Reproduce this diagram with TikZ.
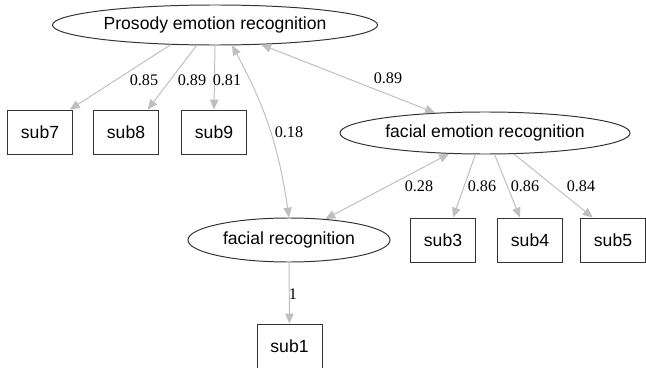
\documentclass[tikz,border=0pt]{standalone}
\usepackage{fontspec}
\setmainfont{Liberation Serif}
\setsansfont{Liberation Sans}
\usetikzlibrary{shapes.geometric,arrows.meta}

\begin{document}
\begin{tikzpicture}[x=0.025cm,y=-0.025cm,>={Triangle[length=7pt,width=6pt]},
   latent/.style={ellipse,draw=black!80,line width=0.7pt,inner sep=0pt,
     font=\sffamily\fontsize{12.5}{14}\selectfont},
   obs/.style={rectangle,draw=black!80,line width=0.7pt,inner sep=0pt,
     minimum width=1.625cm,minimum height=1.1cm,
     font=\sffamily\fontsize{12.5}{14}\selectfont},
   link/.style={draw=black!25,line width=0.7pt},
   coef/.style={inner sep=1pt,font=\fontsize{11.5}{14}\selectfont}]
  \useasboundingbox (0,0) rectangle (646,368);
  \node[latent,minimum width=8.125cm,minimum height=1cm] (pros) at (215,25) {Prosody emotion recognition};
  \node[latent,minimum width=7.25cm,minimum height=1.05cm] (femo) at (485,133) {facial emotion recognition};
  \node[latent,minimum width=5.05cm,minimum height=1.1cm] (frec) at (289,240) {facial recognition};
  \node[obs] (sub7) at (40,132) {sub7};
  \node[obs] (sub8) at (126,132) {sub8};
  \node[obs] (sub9) at (214,132) {sub9};
  \node[obs] (sub3) at (443,240) {sub3};
  \node[obs] (sub4) at (530,240) {sub4};
  \node[obs] (sub5) at (613,240) {sub5};
  \node[obs] (sub1) at (289.5,346) {sub1};
  \draw[link,->] (pros.204) -- (sub7.37);
  \draw[link,->] (pros.228) -- (sub8.46);
  \draw[link,->] (pros.south) -- (sub9.north);
  \draw[link,<->] (pros.310) to[bend left=10] (frec.north);
  \draw[link,<->] (pros.337) -- (femo.158);
  \draw[link,<->] (femo.210) -- (frec.30);
  \draw[link,->] (femo.246) -- (sub3.66);
  \draw[link,->] (femo.294) -- (sub4.114);
  \draw[link,->] (femo.324) -- (sub5.132);
  \draw[link,->] (frec.south) -- (sub1.north);
  \node[coef] (c7) at (144,80) {0.85};
  \node[coef] (c8) at (192,80) {0.89};
  \node[coef] (c9) at (227,80) {0.81};
  \node[coef] (c18) at (289,132) {0.18};
  \node[coef] (cfe) at (388,78) {0.89};
  \node[coef] (cfr) at (419,186) {0.28};
  \node[coef] (c3) at (482,186) {0.86};
  \node[coef] (c4) at (525,186) {0.86};
  \node[coef] (c5) at (581,186) {0.84};
  \node[coef] (c1) at (293,294) {1};
\end{tikzpicture}
\end{document}
